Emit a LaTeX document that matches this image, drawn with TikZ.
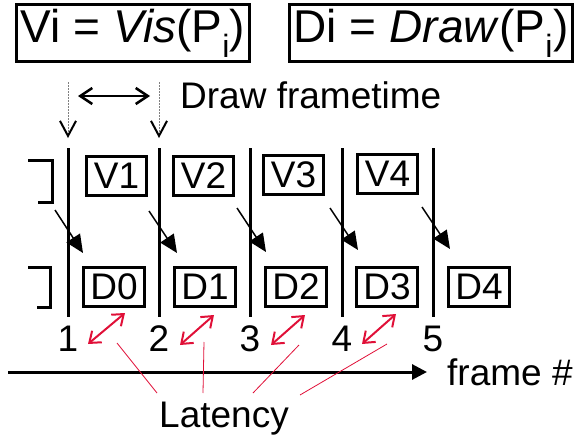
\documentclass[tikz,border=0pt]{standalone}
\usepackage{fontspec}
\setmainfont{Liberation Sans}
\usetikzlibrary{arrows.meta}
\definecolor{latred}{RGB}{224,16,56}
\begin{document}
\begin{tikzpicture}[x=1pt,y=-1pt,
  every node/.style={inner sep=0pt, font=\fontsize{37}{40}\selectfont},
  defbox/.style={draw, line width=3pt, minimum height=57pt, font=\fontsize{46}{50}\selectfont},
  vbox/.style={draw, line width=3pt, minimum width=60pt, minimum height=39pt},
  dbox/.style={draw, line width=3pt, minimum width=61pt, minimum height=39pt},
  tick/.style={line width=3pt},
  bracket/.style={line width=3pt},
  handoff/.style={line width=1.5pt, -{Triangle[length=18pt,width=16pt]}},
  latency/.style={latred, line width=2pt, {Straight Barb[length=10pt,width=15pt]}-{Straight Barb[length=10pt,width=15pt]}},
  pointer/.style={latred, line width=0.8pt},
  marker/.style={gray, line width=0.8pt, dash pattern=on 2pt off 1pt,
    -{Straight Barb[length=15pt,width=16pt,line width=2pt,color=black]}},
  span/.style={line width=2.5pt, {Straight Barb[length=12pt,width=16pt]}-{Straight Barb[length=12pt,width=16pt]}}
]
\useasboundingbox (0,0) rectangle (579,439);

% definitions of the two stages
\node[defbox, minimum width=233pt] (vdef) at (133,33) {Vi = \textit{Vis}(P\textsubscript{i})};
\node[defbox, minimum width=283pt] (ddef) at (431,33) {Di = \textit{Draw}(P\textsubscript{i})};

% frame time marker
\coordinate (m1a) at (68,82);  \coordinate (m1b) at (68,138);
\coordinate (m2a) at (159,82); \coordinate (m2b) at (159,138);
\draw[marker] (m1a) -- (m1b);
\draw[marker] (m2a) -- (m2b);
\coordinate (sa) at (78,96); \coordinate (sb) at (150,96);
\draw[span] (sa) -- (sb);
\node[anchor=base west] (ft) at (180,108) {Draw frametime};

% row brackets
\coordinate (bra1) at (28,160); \coordinate (bra2) at (52,160);
\coordinate (bra3) at (52,202); \coordinate (bra4) at (38,202);
\draw[bracket] (bra1) -- (bra2) -- (bra3) -- (bra4);
\coordinate (brb1) at (28,267); \coordinate (brb2) at (50,267);
\coordinate (brb3) at (50,307); \coordinate (brb4) at (37,307);
\draw[bracket] (brb1) -- (brb2) -- (brb3) -- (brb4);

% frame boundaries and numbers
\foreach \i/\x in {1/68,2/159,3/250,4/342,5/433} {
  \coordinate (t\i) at (\x,148);
  \coordinate (b\i) at (\x,317);
  \draw[tick] (t\i) -- (b\i);
  \node[anchor=base] (n\i) at (\x,351) {\i};
}

% visibility stage
\node[vbox] (v1) at (116.5,176) {V1};
\node[vbox] (v2) at (203.5,176) {V2};
\node[vbox] (v3) at (293.5,175) {V3};
\node[vbox] (v4) at (387.5,174) {V4};

% draw stage
\node[dbox] (d0) at (114,287) {D0};
\node[dbox] (d1) at (205,287) {D1};
\node[dbox] (d2) at (296,287) {D2};
\node[dbox] (d3) at (387,287) {D3};
\node[dbox] (d4) at (479,287) {D4};

% hand-off from one stage to the next
\foreach \i/\sx/\sy/\ex/\ey in {1/55/210/83/253, 2/149/211/177/253, 3/237/208/266/252, 4/330/208/358/250, 5/422/207/450/249} {
  \coordinate (hs\i) at (\sx,\sy);
  \coordinate (he\i) at (\ex,\ey);
  \draw[handoff] (hs\i) -- (he\i);
}

% latency arrows
\foreach \i/\sx/\sy/\ex/\ey in {1/88/344/125/313, 2/180/345/214/315, 3/271/345/305/315, 4/362/344/396/314} {
  \coordinate (la\i) at (\sx,\sy);
  \coordinate (lb\i) at (\ex,\ey);
  \draw[latency] (la\i) -- (lb\i);
}

% frame axis
\coordinate (ax0) at (8,372); \coordinate (ax1) at (427,372);
\draw[line width=3pt, -{Triangle[length=15pt,width=15pt]}] (ax0) -- (ax1);
\node[anchor=base west] (fr) at (447,385) {frame \#};

% latency label and its pointers
\node[anchor=base west] (lat) at (159,427) {Latency};
\foreach \i/\sx/\sy/\ex/\ey in {1/117/343/157/393, 2/204/342/203/393, 3/299/345/253/393, 4/387/344/300/395} {
  \coordinate (ps\i) at (\sx,\sy);
  \coordinate (pe\i) at (\ex,\ey);
  \draw[pointer] (ps\i) -- (pe\i);
}
\end{tikzpicture}
\end{document}
